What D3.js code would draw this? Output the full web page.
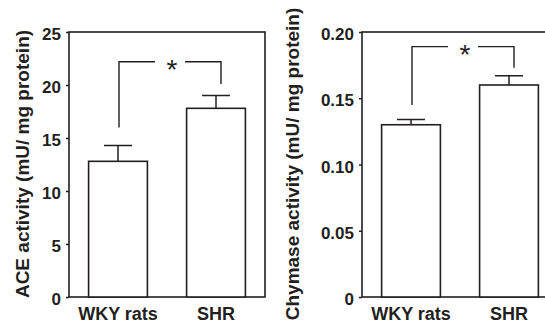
<!DOCTYPE html>
<html>
<head>
<meta charset="utf-8">
<script src="https://cdn.jsdelivr.net/npm/d3@7"></script>
<style>
  body { margin: 0; background: #fff; }
  text { font-family: "Liberation Sans", Arial, Helvetica, sans-serif; fill: #231f20; }
</style>
</head>
<body>
<div id="chart"></div>
<script>
// Data
var groups = ["WKY rats", "SHR"];

var ace_values = [12.8, 17.8];
var ace_errors = [1.5, 1.2];
var ace_ticks = [0, 5, 10, 15, 20, 25];
var ace_tick_labels = ["0", "5", "10", "15", "20", "25"];
var ace_bracket = [22.2, 16.0, 20.1];   // top, left end, right end

var chy_values = [0.130, 0.160];
var chy_errors = [0.004, 0.007];
var chy_ticks = [0, 0.05, 0.10, 0.15, 0.20];
var chy_tick_labels = ["0", "0.05", "0.10", "0.15", "0.20"];
var chy_bracket = [0.189, 0.145, 0.173];

// Variables
var chart_width = 545;
var chart_height = 324;
var ink = "#231f20";

var svg = d3.select("#chart")
    .append("svg")
    .attr("width", chart_width)
    .attr("height", chart_height);

function draw_panel(opt){
    var x_scale = d3.scaleBand()
        .domain(groups)
        .range([opt.left, opt.left + 196])
        .paddingInner(0.4)
        .paddingOuter(0.2);

    var y_scale = d3.scaleLinear()
        .domain([0, opt.max])
        .range([297, 32]);

    var g = svg.append("g");

    // frame
    g.append("rect")
        .attr("x", opt.left)
        .attr("y", y_scale(opt.max))
        .attr("width", 196)
        .attr("height", y_scale(0) - y_scale(opt.max))
        .attr("fill", "none")
        .attr("stroke", ink)
        .attr("stroke-width", 1.6);

    // y axis
    var y_axis = d3.axisLeft(y_scale)
        .tickValues(opt.ticks)
        .tickFormat(function(d, i){ return opt.labels[i]; })
        .tickSize(3)
        .tickPadding(5);
    var ax = g.append("g")
        .attr("transform", "translate(" + opt.left + ",0)")
        .call(y_axis);
    ax.select(".domain").remove();
    ax.selectAll("line").attr("stroke", ink).attr("stroke-width", 1.5);
    ax.selectAll("text")
        .attr("dy", "0.45em")
        .style("font-size", "17px")
        .style("font-weight", "bold")
        .attr("fill", ink);

    // error bars
    g.selectAll(".err")
        .data(opt.values)
        .enter()
        .append("path")
        .attr("fill", "none")
        .attr("stroke", ink)
        .attr("stroke-width", 1.5)
        .attr("d", function(d, i){
            var cx = x_scale(groups[i]) + x_scale.bandwidth() / 2;
            var yt = y_scale(d + opt.errors[i]);
            return "M" + cx + "," + y_scale(d) + "V" + yt +
                   "M" + (cx - 14) + "," + yt + "H" + (cx + 14);
        });

    // bars
    g.selectAll(".bar")
        .data(opt.values)
        .enter()
        .append("rect")
        .attr("x", function(d, i){ return x_scale(groups[i]); })
        .attr("y", function(d){ return y_scale(d); })
        .attr("width", x_scale.bandwidth())
        .attr("height", function(d){ return y_scale(0) - y_scale(d); })
        .attr("fill", "#fff")
        .attr("stroke", ink)
        .attr("stroke-width", 1.6);

    // significance bracket
    var bx1 = x_scale(groups[0]) + x_scale.bandwidth() / 2 + 1;
    var bx2 = x_scale(groups[1]) + x_scale.bandwidth() / 2 + 5;
    var by = y_scale(opt.bracket[0]);
    var mid = (bx1 + bx2) / 2;
    g.append("path")
        .attr("fill", "none")
        .attr("stroke", ink)
        .attr("stroke-width", 1.4)
        .attr("d", "M" + bx1 + "," + y_scale(opt.bracket[1]) + "V" + by + "H" + (mid - 15) +
                   "M" + (mid + 15) + "," + by + "H" + bx2 + "V" + y_scale(opt.bracket[2]));
    g.append("text")
        .attr("x", mid + 2)
        .attr("y", by + 17.5)
        .attr("text-anchor", "middle")
        .style("font-size", "28px")
        .text("*");

    // x labels
    g.selectAll(".xl")
        .data(groups)
        .enter()
        .append("text")
        .attr("x", function(d){ return x_scale(d) + x_scale.bandwidth() / 2; })
        .attr("y", 319.5)
        .attr("text-anchor", "middle")
        .style("font-size", "18px")
        .style("font-weight", "bold")
        .text(function(d){ return d; });

    // y title
    g.append("text")
        .attr("transform", "translate(" + opt.title_x + ",164) rotate(-90)")
        .attr("text-anchor", "middle")
        .style("font-size", "19px")
        .style("font-weight", "bold")
        .text(opt.title);
}

draw_panel({
    left: 69, max: 25, values: ace_values, errors: ace_errors,
    ticks: ace_ticks, labels: ace_tick_labels, bracket: ace_bracket,
    title: "ACE activity (mU/ mg protein)", title_x: 28.5
});

draw_panel({
    left: 362, max: 0.20, values: chy_values, errors: chy_errors,
    ticks: chy_ticks, labels: chy_tick_labels, bracket: chy_bracket,
    title: "Chymase activity (mU/ mg protein)", title_x: 298.5
});
</script>
</body>
</html>
